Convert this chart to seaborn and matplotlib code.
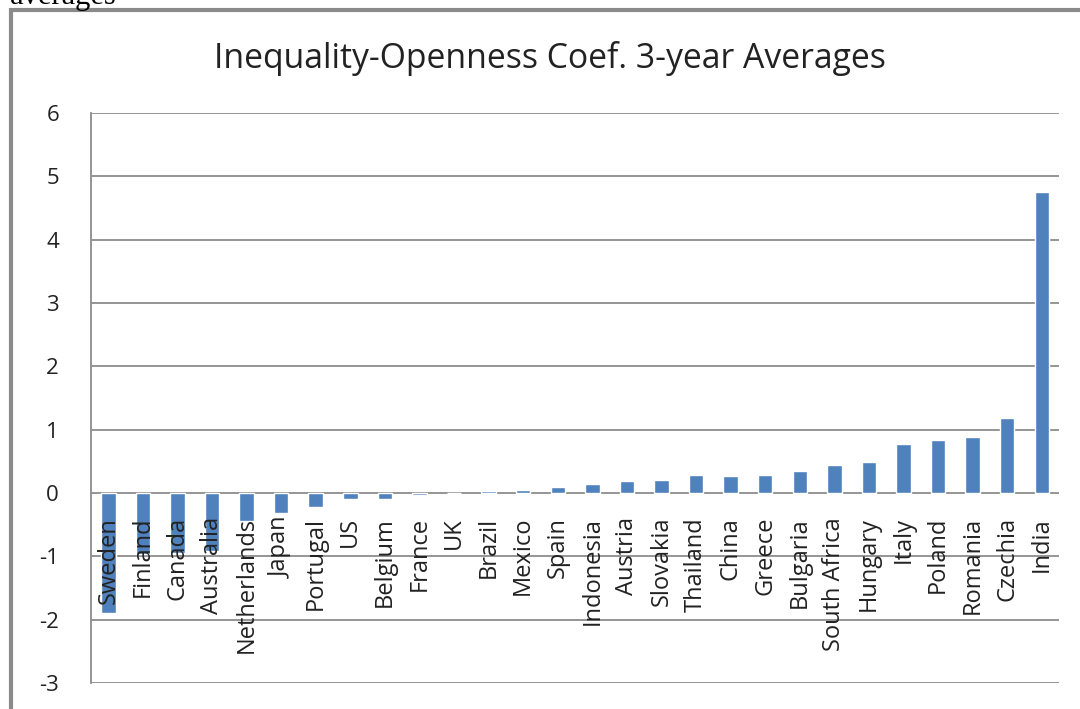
import matplotlib
matplotlib.use("Agg")
import matplotlib.pyplot as plt
import seaborn as sns
import pandas as pd
from matplotlib.patches import Rectangle
from matplotlib.transforms import offset_copy

# values
countries = ["Sweden", "Finland", "Canada", "Australia", "Netherlands", "Japan",
             "Portugal", "US", "Belgium", "France", "UK", "Brazil", "Mexico",
             "Spain", "Indonesia", "Austria", "Slovakia", "Thailand", "China",
             "Greece", "Bulgaria", "South Africa", "Hungary", "Italy", "Poland",
             "Romania", "Czechia", "India"]
coef = [-1.90, -0.97, -0.94, -0.91, -0.44, -0.32,
        -0.22, -0.09, -0.09, -0.03, 0.0, 0.03, 0.05,
        0.10, 0.14, 0.19, 0.21, 0.28, 0.27,
        0.29, 0.34, 0.44, 0.49, 0.78, 0.84,
        0.88, 1.18, 4.76]
yticks = [-3, -2, -1, 0, 1, 2, 3, 4, 5, 6]

df = pd.DataFrame({"country": countries, "coef": coef})

sns.set_style("white")
plt.rcParams["font.family"] = ["Open Sans", "DejaVu Sans"]

fig = plt.figure(figsize=(10.8, 7.09), dpi=100)
ax = fig.add_axes([0.0843, 0.0367, 0.8963, 0.8039])

sns.barplot(data=df, x="country", y="coef", color="#4F81BD", saturation=1,
            width=0.42, ax=ax, zorder=3)

ax.set_ylim(-3, 6)
ax.set_xlim(-0.5, len(countries) - 0.5)
ax.set_yticks(yticks)
ax.set_yticklabels([str(t) for t in yticks], fontsize=16, color="#222222")
ax.tick_params(axis="y", length=0, pad=23)
ax.set_xticks([])
ax.set_xlabel("")
ax.set_ylabel("")
ax.yaxis.grid(True, color="#8c8c8c", linewidth=1.3, zorder=0)

for side in ["top", "right", "bottom"]:
    ax.spines[side].set_visible(False)
ax.spines["left"].set_color("#8c8c8c")
ax.spines["left"].set_linewidth(1.3)

# category labels hang below the zero line
lab_tr = offset_copy(ax.transData, fig=fig, x=0, y=-24, units="dots")
for i, name in enumerate(countries):
    ax.text(i, 0, name, rotation=90, ha="center", va="top", fontsize=17,
            color="#222222", transform=lab_tr, zorder=4)

fig.text(0.509, 0.918, "Inequality-Openness Coef. 3-year Averages",
         ha="center", va="center", fontsize=24.3, color="#222222")

# outer chart frame and clipped caption line from the page
fig.patches.append(Rectangle((0.0105, -0.05), 1.2, 1.036, transform=fig.transFigure,
                             fill=False, edgecolor="#8a8a8a", linewidth=3))
fig.text(0.009, 0.995, "averages", ha="left", va="baseline", fontsize=22,
         family="Liberation Serif", color="black")

fig.savefig("out.png", dpi=100)
